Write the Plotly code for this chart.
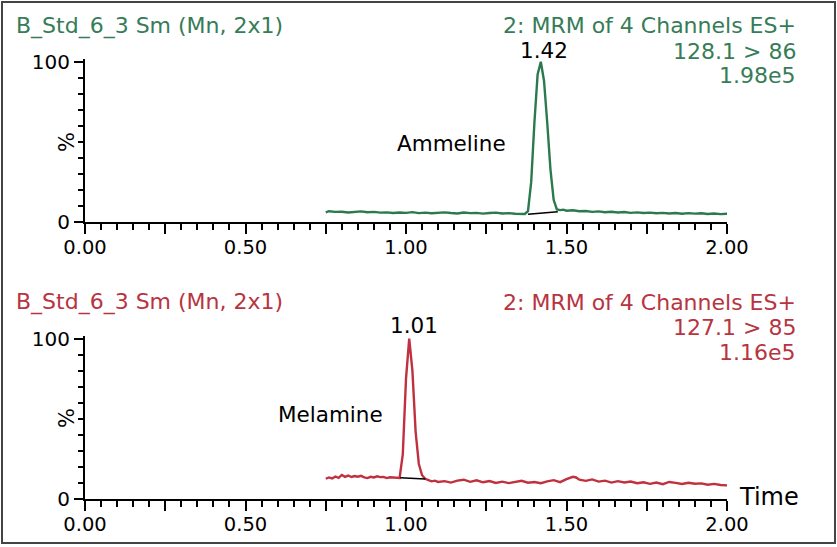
import plotly.graph_objects as go

# Ammeline channel (128.1 > 86), time in min, intensity in %
amm_time = [0.75, 0.76, 0.78, 0.80, 0.82, 0.84, 0.86, 0.88, 0.90, 0.92, 0.94, 0.96, 0.98,
            1.00, 1.02, 1.04, 1.06, 1.08, 1.10, 1.12, 1.14, 1.16, 1.18, 1.20, 1.22, 1.24,
            1.26, 1.28, 1.30, 1.32, 1.34, 1.36, 1.37, 1.38, 1.39, 1.40, 1.41, 1.42, 1.43,
            1.44, 1.45, 1.46, 1.47, 1.48, 1.49, 1.50, 1.52, 1.54, 1.56, 1.58, 1.60, 1.62,
            1.64, 1.66, 1.68, 1.70, 1.72, 1.74, 1.76, 1.78, 1.80, 1.82, 1.84, 1.86, 1.88,
            1.90, 1.92, 1.94, 1.96, 1.98, 2.00]
amm_pct = [6.2, 6.9, 6.5, 6.6, 6.1, 6.4, 6.8, 6.3, 6.5, 6.0, 6.2, 5.8, 6.1,
           5.9, 6.3, 5.7, 6.0, 5.6, 5.9, 6.2, 5.8, 5.5, 6.1, 5.7, 5.9, 5.4,
           5.8, 6.0, 5.5, 5.7, 5.3, 5.4, 5.2, 7.0, 25.0, 62.0, 92.0, 100.0, 88.0,
           62.0, 33.0, 14.0, 8.0, 7.6, 7.9, 7.2, 7.5, 6.9, 7.0, 6.5, 6.8, 6.3,
           6.6, 6.1, 6.4, 5.9, 6.2, 5.8, 6.0, 5.6, 5.9, 5.5, 5.8, 5.3, 5.7,
           5.4, 5.6, 5.2, 5.5, 5.1, 5.3]
amm_base_t = [1.38, 1.473]
amm_base_y = [5.0, 6.6]

# Melamine channel (127.1 > 85)
mel_time = [0.75, 0.76, 0.77, 0.78, 0.79, 0.80, 0.81, 0.82, 0.83, 0.84, 0.85, 0.86, 0.87,
            0.88, 0.89, 0.90, 0.91, 0.92, 0.93, 0.94, 0.95, 0.96, 0.97, 0.98, 0.99, 1.00,
            1.01, 1.02, 1.03, 1.04, 1.05, 1.06, 1.07, 1.08, 1.09, 1.10, 1.12, 1.14, 1.16,
            1.18, 1.20, 1.22, 1.24, 1.26, 1.28, 1.30, 1.32, 1.34, 1.36, 1.38, 1.40, 1.42,
            1.44, 1.46, 1.48, 1.50, 1.52, 1.53, 1.54, 1.56, 1.58, 1.60, 1.62, 1.64, 1.66,
            1.68, 1.70, 1.72, 1.74, 1.76, 1.78, 1.80, 1.82, 1.84, 1.86, 1.88, 1.90, 1.92,
            1.94, 1.96, 1.98, 2.00]
mel_pct = [12.8, 13.6, 13.0, 14.2, 13.4, 15.2, 14.0, 14.8, 13.9, 14.5, 14.1, 14.6, 13.7,
           13.2, 14.0, 13.6, 14.3, 13.8, 13.9, 13.2, 13.7, 13.5, 13.4, 13.3, 28.0, 75.0,
           100.0, 80.0, 42.0, 22.0, 15.0, 12.8, 12.0, 11.2, 11.6, 10.8, 11.3, 10.4, 11.6,
           12.2, 10.9, 11.8, 10.6, 11.4, 10.2, 11.0, 10.1, 10.9, 11.5, 10.3, 10.8, 10.0,
           11.2, 11.9, 10.7, 12.6, 14.0, 13.6, 12.2, 11.5, 12.4, 11.0, 11.6, 10.4, 11.3,
           10.5, 11.1, 10.0, 10.6, 9.6, 10.4, 9.4, 10.8, 10.2, 9.5, 10.3, 9.7, 9.9,
           9.1, 9.6, 8.9, 8.7]
mel_base_t = [0.982, 1.06]
mel_base_y = [13.4, 12.6]

x_tickvals = [0, 0.25, 0.5, 0.75, 1.0, 1.25, 1.5, 1.75, 2.0]
x_ticktext = ["0.00", "", "0.50", "", "1.00", "", "1.50", "", "2.00"]
y_tickvals = [0, 100]
y_ticktext = ["0", "100"]

GREEN = "#2b7a4e"
GREEN_TXT = "#367c57"
RED = "#c0303f"
RED_TXT = "#b8343f"
FONT = "DejaVu Sans"
W, H = 837, 547


def px(x):
    return x / W


def py(y):
    return 1 - y / H


fig = go.Figure()
fig.add_trace(go.Scatter(x=amm_time, y=amm_pct, mode="lines",
                         line=dict(color=GREEN, width=2.4), xaxis="x", yaxis="y"))
fig.add_trace(go.Scatter(x=amm_base_t, y=amm_base_y, mode="lines",
                         line=dict(color="black", width=1.5), xaxis="x", yaxis="y"))
fig.add_trace(go.Scatter(x=mel_time, y=mel_pct, mode="lines",
                         line=dict(color=RED, width=2.4), xaxis="x2", yaxis="y2"))
fig.add_trace(go.Scatter(x=mel_base_t, y=mel_base_y, mode="lines",
                         line=dict(color="black", width=1.5), xaxis="x2", yaxis="y2"))

xax = dict(range=[0, 2.0], domain=[px(85), px(727)], showline=True, linecolor="black",
           linewidth=2, ticks="outside", tickvals=x_tickvals, ticktext=x_ticktext,
           ticklen=10, tickwidth=2, tickcolor="black", showgrid=False, zeroline=False,
           automargin=False, ticklabelstandoff=-4,
           tickfont=dict(family=FONT, size=19.5, color="black"),
           minor=dict(dtick=0.05, tick0=0, ticks="outside", ticklen=6, tickwidth=1.5,
                      tickcolor="black", showgrid=False))
yax = dict(range=[0, 102], showline=True, linecolor="black", linewidth=2, ticks="outside",
           tickvals=y_tickvals, ticktext=y_ticktext, ticklen=9, tickwidth=2,
           tickcolor="black", showgrid=False, zeroline=False, automargin=False,
           tickfont=dict(family=FONT, size=20, color="black"),
           minor=dict(dtick=10, tick0=0, ticks="outside", ticklen=5, tickwidth=1.5,
                      tickcolor="black", showgrid=False))

fig.update_layout(
    width=W, height=H, margin=dict(l=0, r=0, t=0, b=0, autoexpand=False),
    paper_bgcolor="white", plot_bgcolor="white", showlegend=False,
    xaxis=dict(xax, anchor="y"),
    yaxis=dict(yax, anchor="x", domain=[py(222.3), py(58.5)]),
    xaxis2=dict(xax, anchor="y2"),
    yaxis2=dict(yax, anchor="x2", domain=[py(499.3), py(335.5)]),
)

ann = []


def text(x, y, s, color, size=22, xanchor="center", angle=0):
    ann.append(dict(x=px(x), y=py(y), xref="paper", yref="paper", text=s, showarrow=False,
                    xanchor=xanchor, yanchor="middle", textangle=angle,
                    font=dict(family=FONT, size=size, color=color)))


for off, tcol, l2, l3, peak, peak_x, peak_y, name, name_x, name_y in [
        (0, GREEN_TXT, "128.1 > 86", "1.98e5", "1.42", 544, 50.5, "Ammeline", 451, 143),
        (276, RED_TXT, "127.1 > 85", "1.16e5", "1.01", 414, 49, "Melamine", 330, 138)]:
    text(14, 26 + off, "B_Std_6_3 Sm (Mn, 2x1)", tcol, xanchor="left")
    text(798, 26 + off, "2: MRM of 4 Channels ES+", tcol, xanchor="right")
    text(798, 51 + off, l2, tcol, xanchor="right")
    text(798, 76 + off, l3, tcol, xanchor="right")
    text(peak_x, peak_y + off, peak, "black", size=21.5)
    text(name_x, name_y + off, name, "black", size=21.5)
    text(67, 142 + off, "%", "black", size=21, angle=-90)

text(769, 497, "Time", "black", size=24)
fig.update_layout(annotations=ann)

fig.add_shape(type="rect", xref="paper", yref="paper", x0=px(2), x1=px(835),
              y0=py(543), y1=py(2), line=dict(color="#444444", width=2))

fig.write_html("out.html", config={"displayModeBar": False},
               post_script="document.body.style.margin='0';")
